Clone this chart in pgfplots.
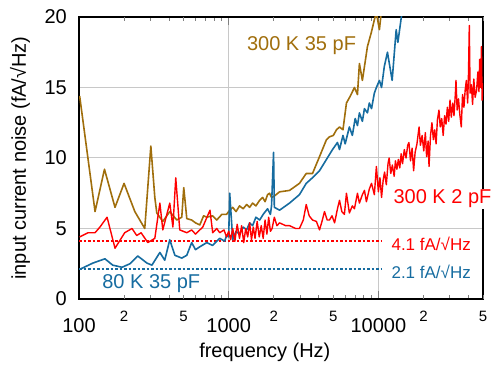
\documentclass[border=0pt]{standalone}
\usepackage{fontspec}
\setmainfont{Liberation Sans}
\usepackage{pgfplots}
\pgfplotsset{compat=1.18}
\definecolor{cgold}{RGB}{160,110,12}
\definecolor{cblue}{RGB}{22,108,160}
\definecolor{cred}{RGB}{255,0,0}
\definecolor{cgrid}{RGB}{200,200,200}
\begin{document}
\begin{tikzpicture}
\begin{axis}[
  name=ax,
  scale only axis, width=404pt, height=282pt,
  xmode=log, xmin=100, xmax=50000, ymin=0, ymax=20,
  axis line style={line width=1.2pt},
  /pgf/number format/assume math mode=true,
  xtick={100,1000,10000}, xticklabels={100,1000,10000},
  minor xtick={200,300,400,500,600,700,800,900,2000,3000,4000,5000,6000,7000,8000,9000,20000,30000,40000},
  extra x ticks={200,500,2000,5000,20000,50000},
  extra x tick labels={2,5,2,5,2,5},
  extra x tick style={grid=none, major tick length=4pt, xticklabel style={font=\fontsize{15}{18}\selectfont, yshift=9.5pt}},
  ytick={0,5,10,15,20}, yticklabels={0,5,10,15,20},
  tick align=inside,
  major tick length=8pt, minor tick length=4pt,
  xtick style={line width=1pt},
  ytick style={draw=none},
  grid=major,
  major grid style={cgrid, line width=1pt},
  xticklabel style={font=\fontsize{20}{24}\selectfont, anchor=center, inner sep=0pt, yshift=-26.5pt},
  yticklabel style={font=\fontsize{20}{24}\selectfont, anchor=east, inner sep=0pt, xshift=-12pt},
  xlabel={frequency (Hz)},
  ylabel={input current noise (fA/√Hz)},
  every axis x label/.style={at={(axis description cs:0.46,-0.188)}, anchor=center, font=\fontsize{20}{24}\selectfont},
  every axis y label/.style={at={(axis description cs:-0.146,0.5)}, rotate=90, anchor=center, font=\fontsize{20}{24}\selectfont},
]
% reference levels
\addplot[draw=cred, line width=1.5pt, dash pattern=on 2.5pt off 2pt] coordinates {(100,4.1) (10420,4.1)};
\addplot[draw=cblue, line width=2pt, dash pattern=on 2.5pt off 2pt] coordinates {(100,2.1) (10420,2.1)};
% 300 K 35 pF
\addplot[color=cgold, line width=1.6pt, line join=round] coordinates {
(101,14.4) (128,6.2) (148,9.2) (174,6.5) (200,8.2) (236,6.2) (275,5.0) (302,10.85) (321,7.2) (331,6.1)
(363,5.5) (404,6.2) (450,5.6) (486,5.8) (501,7.9) (525,5.7) (566,5.6) (600,5.4) (641,5.25) (680,5.9)
(714,5.8) (780,5.9) (832,5.6) (900,6.0) (968,6.0) (1016,6.3) (1064,6.5) (1120,6.2) (1181,6.6) (1250,6.4)
(1318,6.7) (1380,6.5) (1445,6.8) (1520,6.6) (1610,7.0) (1687,7.2) (1750,6.9) (1819,7.4) (1875,7.5) (1933,7.2)
(2018,7.3) (2188,7.6) (2549,7.7) (2970,8.2) (3296,8.9) (3631,8.9) (4045,10.1) (4500,11.3) (4715,11.5) (5000,11.6)
(5250,12.0) (5500,12.2) (5800,12.0) (6120,13.9) (6500,14.4) (6920,15.0) (7250,14.5) (7470,16.7) (7820,15.5) (8450,17.9)
(8970,18.9) (9400,19.8) (9700,20.3) (10160,19.1) (10500,20.5) (10960,21.0)
};
% 80 K 35 pF
\addplot[color=cblue, line width=1.6pt, line join=round] coordinates {
(101,2.1) (124,2.55) (149,2.85) (168,2.4) (194,2.25) (219,2.5) (247,3.05) (284,2.55) (307,2.4) (347,3.3)
(374,2.75) (404,4.2) (437,3.1) (486,2.9) (525,3.1) (566,4.0) (600,3.5) (641,3.7) (714,4.0) (780,3.8)
(871,4.3) (940,4.1) (968,4.5) (1000,4.4) (1016,7.5) (1064,4.2) (1120,4.8) (1181,4.6) (1250,5.1) (1318,4.9)
(1380,5.4) (1445,5.2) (1520,5.8) (1610,5.6) (1700,6.0) (1819,6.4) (1900,6.0) (1933,6.6) (1995,10.4) (2018,6.5)
(2188,6.3) (2549,6.8) (2970,7.4) (3296,8.2) (3631,8.6) (4045,9.1) (4500,9.9) (4940,10.6) (5330,11.1) (5500,10.6)
(5800,11.6) (6000,11.0) (6400,12.2) (6700,11.6) (7000,12.8) (7250,12.3) (7470,13.2) (7820,12.6) (8070,13.5) (8450,13.2)
(8700,13.9) (9000,13.5) (9400,14.6) (9700,15.0) (10160,15.5) (10500,15.0) (10960,16.5) (11500,17.5) (12360,15.5) (13150,19.1)
(13500,18.2) (14450,20.5)
};
% 300 K 2 pF
\addplot[color=cred, line width=1.4pt, line join=round] coordinates {
(101,4.4) (115,4.7) (128,4.7) (138,5.1) (154,5.8) (174,3.6) (202,4.7) (226,5.0) (243,4.5) (260,4.7)
(288,4.0) (321,4.3) (347,6.8) (363,4.9) (404,6.8) (424,5.1) (443,8.6) (471,4.9) (525,4.7) (566,4.9)
(600,4.6) (671,5.1) (750,6.3) (782,4.7) (832,5.0) (871,4.7) (930,4.9) (968,4.4) (1000,4.8) (1030,4.2)
(1064,5.0) (1100,4.1) (1140,5.3) (1181,4.3) (1220,5.2) (1260,4.0) (1300,5.0) (1340,4.4) (1380,5.4) (1420,4.2)
(1460,5.1) (1500,4.3) (1550,5.5) (1600,4.4) (1650,5.2) (1700,4.3) (1750,5.6) (1800,4.6) (1850,5.8) (1900,4.8)
(1950,5.0) (2018,5.8) (2100,5.2) (2188,5.4) (2400,5.2) (2549,5.2) (2800,5.0) (2970,5.0) (3150,5.6) (3296,6.7)
(3450,5.9) (3631,5.6) (3855,5.5) (4045,4.9) (4200,5.5) (4366,6.2) (4550,5.6) (4715,5.6) (4900,5.9) (5100,5.4)
(5330,6.4) (5500,7.0) (5700,6.2) (5930,6.0) (6120,7.5) (6400,6.1) (6700,6.6) (6920,6.4) (7250,7.5) (7470,6.8)
(7820,7.4) (8070,7.7) (8320,6.9) (8700,7.8) (9000,8.2) (9400,7.4) (9700,9.4) (10000,7.6) (10250,8.6) (10500,7.2)
(10760,8.4) (11000,9.0) (11300,8.1) (11600,9.6) (11800,10.0) (12100,8.9) (12400,9.5) (12750,8.7) (13000,9.8) (13300,9.2)
(13600,9.9) (13900,9.3) (14200,10.3) (14500,9.6) (14900,10.6) (15300,10.0) (15700,10.9) (16000,11.1) (16400,9.8) (16800,10.7)
(17200,9.1) (17600,10.4) (18100,11.0) (18700,12.2) (19100,10.9) (19600,11.6) (20100,10.5) (20600,11.8) (21000,10.1) (21500,11.2)
(21800,9.4) (22300,11.6) (22800,12.5) (23300,11.3) (23800,12.0) (24300,11.0) (24800,12.7) (25400,13.4) (25900,12.2) (26500,12.8)
(27100,11.6) (27700,13.0) (28300,12.4) (28900,13.6) (29500,12.6) (30100,14.1) (30700,12.9) (31400,13.9) (32000,13.0) (32700,14.6)
(33000,15.5) (33600,13.4) (34300,14.2) (35000,13.1) (35800,12.2) (36500,14.5) (37300,13.6) (38000,14.8) (38700,15.5) (39500,13.9)
(40000,16.0) (40500,19.4) (41000,14.6) (41800,15.2) (42600,13.8) (43400,15.6) (44300,14.3) (45300,14.8) (46200,16.1) (47000,14.7)
(47500,17.0) (48200,15.0) (48800,17.9) (49300,14.1) (50000,15.3)
};
\coordinate (lblA) at (axis cs:3067,17.94);
\coordinate (lblB) at (axis cs:304,1.1);
\coordinate (lblC) at (axis cs:12400,7.1);
\coordinate (lblD) at (axis cs:12210,3.94);
\coordinate (lblE) at (axis cs:12210,1.95);
\end{axis}
\node[text=cgold, font=\fontsize{20}{24}\selectfont] at (lblA) {300 K 35 pF};
\node[text=cblue, font=\fontsize{20}{24}\selectfont] at (lblB) {80 K 35 pF};
\node[text=cred, fill=white, font=\fontsize{20}{24}\selectfont, anchor=west, inner sep=1pt] at (lblC) {300 K 2 pF};
\node[text=cred, font=\fontsize{17}{20}\selectfont, anchor=west, inner sep=0pt] at (lblD) {4.1 fA/√Hz};
\node[text=cblue, font=\fontsize{17}{20}\selectfont, anchor=west, inner sep=0pt] at (lblE) {2.1 fA/√Hz};
\pgfresetboundingbox
\path ([shift={(-79pt,-66pt)}]ax.south west) rectangle ([shift={(11pt,17pt)}]ax.north east);
\end{tikzpicture}
\end{document}
